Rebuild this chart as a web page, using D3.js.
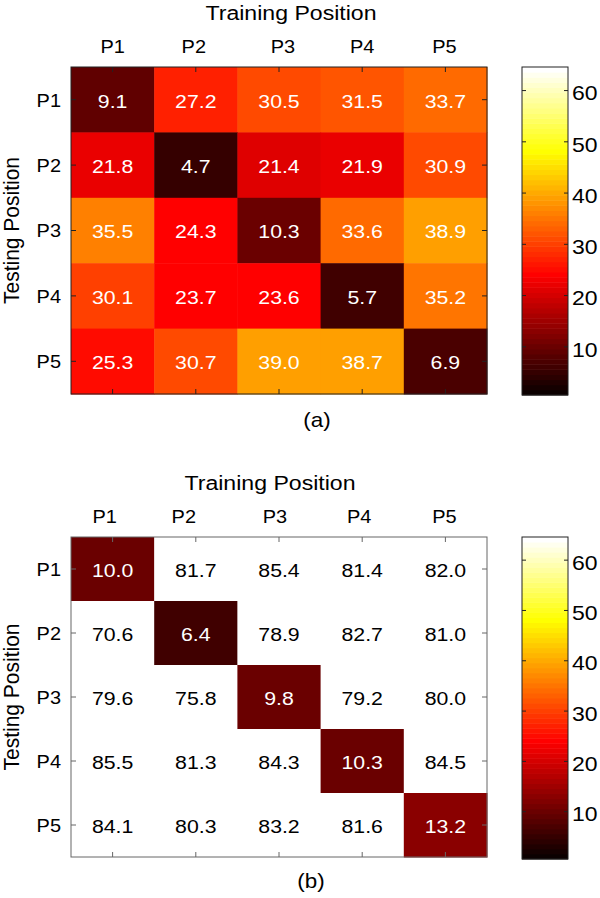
<!DOCTYPE html>
<html><head><meta charset="utf-8">
<script src="https://cdn.jsdelivr.net/npm/d3@7"></script>
<style>body{margin:0;background:#fff}svg{display:block;font-family:"Liberation Sans",Arial,sans-serif}</style>
</head><body>
<svg id="c" width="600" height="898"></svg>
<script>
const trainLabels = ["P1","P2","P3","P4","P5"];
const testLabels = ["P1","P2","P3","P4","P5"];
const valuesA = [
  [9.1, 27.2, 30.5, 31.5, 33.7],
  [21.8, 4.7, 21.4, 21.9, 30.9],
  [35.5, 24.3, 10.3, 33.6, 38.9],
  [30.1, 23.7, 23.6, 5.7, 35.2],
  [25.3, 30.7, 39.0, 38.7, 6.9]
];
const valuesB = [
  [10.0, 81.7, 85.4, 81.4, 82.0],
  [70.6, 6.4, 78.9, 82.7, 81.0],
  [79.6, 75.8, 9.8, 79.2, 80.0],
  [85.5, 81.3, 84.3, 10.3, 84.5],
  [84.1, 80.3, 83.2, 81.6, 13.2]
];
const colorbarTicks = [10,20,30,40,50,60];
const panelLabels = ["(a)","(b)"];
const xTitle = "Training Position", yTitle = "Testing Position";

// layout (not data): small horizontal nudges of top tick labels, as placed in the original figure
const topLabelNudgeA = [0, -2, 4, 0, -1];
const topLabelNudgeB = [-8, -12, -4, -3, -1];

// MATLAB hot(64)
function hot(v){
  const i = Math.max(1, Math.min(64, Math.round(v)));
  const r = Math.min(1, i/24);
  const g = i <= 24 ? 0 : Math.min(1, (i-24)/24);
  const b = i <= 48 ? 0 : (i-48)/16;
  return d3.rgb(r*255, g*255, b*255).formatHex();
}

const svg = d3.select("#c");
const X0 = 71, X1 = 487;
const CB0 = 522, CB1 = 568;

function txt(g, x, y, s, size, sx, anchor, fill, dy){
  return g.append("text")
    .attr("transform", `translate(${x},${y}) scale(${sx},1)`)
    .attr("text-anchor", anchor || "middle")
    .attr("dy", dy || 0)
    .attr("font-size", size).attr("fill", fill || "#000").text(s);
}

function panel(vals, top, bottom, cbBottom, label, labelX, labelY, titleX, titleY, nudge, tickColor, boxColor){
  const g = svg.append("g");
  const x = d3.scaleBand().domain(trainLabels).range([X0, X1]);
  const y = d3.scaleBand().domain(testLabels).range([top, bottom]);
  const cells = [];
  vals.forEach((row, r) => row.forEach((v, c) => cells.push({r: testLabels[r], c: trainLabels[c], v})));
  g.selectAll("rect.cell").data(cells).enter().append("rect")
    .attr("x", d => x(d.c)).attr("y", d => y(d.r))
    .attr("width", x.bandwidth()+0.5).attr("height", y.bandwidth()+0.5)
    .attr("fill", d => hot(d.v));
  cells.forEach(d => {
    txt(g, x(d.c) + x.bandwidth()/2, y(d.r) + y.bandwidth()/2 + 1, d.v.toFixed(1), 19, 1.12,
        "middle", d.v < 64 ? "#fff" : "#000", "0.36em");
  });
  // box
  g.append("rect").attr("x", X0).attr("y", top).attr("width", X1-X0).attr("height", bottom-top)
    .attr("fill", "none").attr("stroke", boxColor).attr("stroke-width", 1);
  // ticks (inward)
  const tl = 5;
  [[d3.axisTop(x), `translate(0,${top})`], [d3.axisBottom(x), `translate(0,${bottom})`],
   [d3.axisLeft(y), `translate(${X0},0)`], [d3.axisRight(y), `translate(${X1},0)`]].forEach(([a, t]) => {
    const ga = g.append("g").attr("transform", t).call(a.tickSize(-tl).tickFormat(""));
    ga.select(".domain").remove();
    ga.selectAll("line").attr("stroke", tickColor);
  });
  // tick labels
  trainLabels.forEach((p, i) => txt(g, x(p) + x.bandwidth()/2 + nudge[i], top - 14, p, 19, 1.05, "middle"));
  testLabels.forEach(p => txt(g, 61, y(p) + y.bandwidth()/2, p, 19, 1.05, "end", "#000", "0.36em"));
  // titles
  txt(g, titleX, titleY, xTitle, 21, 1.1, "middle");
  g.append("text").attr("transform", `translate(19,${(top+bottom)/2}) scale(1.05,1) rotate(-90)`)
    .attr("text-anchor", "middle").attr("font-size", 21).text(yTitle);
  txt(g, labelX, labelY, label, 20, 1.12, "middle");
  // colorbar
  const cy = d3.scaleLinear().domain([0.5, 64.5]).range([cbBottom, top]);
  const levels = d3.range(1, 65);
  g.selectAll("rect.cb").data(levels).enter().append("rect")
    .attr("x", CB0).attr("width", CB1-CB0)
    .attr("y", d => cy(d+0.5)).attr("height", d => cy(d-0.5) - cy(d+0.5) + 0.5)
    .attr("fill", d => hot(d));
  g.append("rect").attr("x", CB0).attr("y", top).attr("width", CB1-CB0).attr("height", cbBottom-top)
    .attr("fill", "none").attr("stroke", "#222").attr("stroke-width", 1);
  [[d3.axisRight(cy), CB1], [d3.axisLeft(cy), CB0]].forEach(([a, tx]) => {
    const gc = g.append("g").attr("transform", `translate(${tx},0)`)
      .call(a.tickValues(colorbarTicks).tickSize(-4).tickFormat(""));
    gc.select(".domain").remove();
    gc.selectAll("line").attr("stroke", "#222");
  });
  colorbarTicks.forEach(t => txt(g, CB1 + 4, cy(t) + 3, String(t), 20, 1.15, "start", "#000", "0.36em"));
}

panel(valuesA, 67, 394, 395, panelLabels[0], 317, 427, 291, 20, topLabelNudgeA, "#222", "#222");
panel(valuesB, 537, 857, 859, panelLabels[1], 311, 888, 270, 490, topLabelNudgeB, "#666", "#666");
</script>
</body></html>
